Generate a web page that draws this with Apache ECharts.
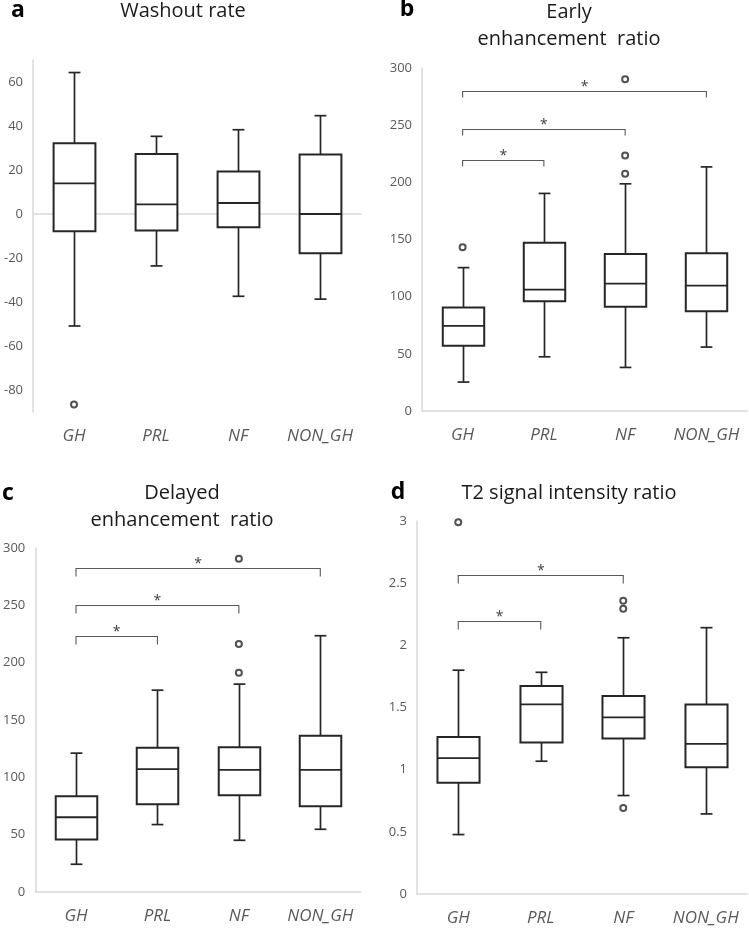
<!DOCTYPE html>
<html>
<head>
<meta charset="utf-8">
<script src="https://cdn.jsdelivr.net/npm/echarts@6/dist/echarts.min.js"></script>
<style>
html,body{margin:0;padding:0;background:#fff;}
#chart{width:749px;height:928px;}
</style>
</head>
<body>
<div id="chart"></div>
<script>
// ---- data ----
const categories = ['GH', 'PRL', 'NF', 'NON_GH'];

// [lower whisker, Q1, median, Q3, upper whisker]
const washoutBox = [[-50.9, -7.8, 13.9, 32.2, 64.3], [-23.6, -7.5, 4.4, 27.3, 35.3], [-37.4, -6.0, 5.0, 19.3, 38.3], [-38.7, -17.8, 0, 27.0, 44.7]];
const washoutOutliers = [[0, -86.6]];
const washoutBrackets = [];

const earlyBox = [[25.3, 57.0, 74.5, 90.5, 125.4], [47.4, 96.0, 106.2, 147.2, 190.3], [38.1, 91.1, 111.4, 137.3, 198.7], [55.9, 87.3, 109.7, 137.9, 213.5]];
const earlyOutliers = [[0, 143.2], [2, 207.4], [2, 223.5], [2, 290.1]];
const earlyBrackets = [[0, 1, 219.4], [0, 2, 246.5], [0, 3, 279.6]];

const delayedBox = [[24.2, 45.7, 65.2, 83.5, 121.1], [58.8, 76.6, 107.1, 125.7, 176.0], [45.1, 84.4, 106.5, 126.3, 181.3], [54.7, 74.8, 106.5, 136.2, 223.5]];
const delayedOutliers = [[2, 191.2], [2, 216.2], [2, 290.7]];
const delayedBrackets = [[0, 1, 222.9], [0, 2, 250.0], [0, 3, 282.5]];

const t2Box = [[0.478, 0.894, 1.093, 1.262, 1.80], [1.068, 1.219, 1.525, 1.672, 1.783], [0.792, 1.251, 1.420, 1.592, 2.061], [0.644, 1.020, 1.208, 1.525, 2.142]];
const t2Outliers = [[0, 2.99], [2, 2.359], [2, 2.295], [2, 0.692]];
const t2Brackets = [[0, 1, 2.193], [0, 2, 2.564]];

// ---- styling / layout ----
const FONT = '"Open Sans", "Noto Sans", sans-serif';
const INK = '#262626';
const AXIS_GRAY = '#d9d9d9';
const LABEL_GRAY = '#595959';

const panels = [
  { box: washoutBox, out: washoutOutliers, br: washoutBrackets, min: -90, max: 70, interval: 10, labelStep: 20,
    grid: { left: 33, top: 60, width: 328, height: 352 }, tick: 6 },
  { box: earlyBox, out: earlyOutliers, br: earlyBrackets, min: 0, max: 300, interval: 50, labelStep: 50,
    grid: { left: 422, top: 68, width: 325, height: 343 }, tick: 6 },
  { box: delayedBox, out: delayedOutliers, br: delayedBrackets, min: 0, max: 300, interval: 50, labelStep: 50,
    grid: { left: 35, top: 548, width: 326, height: 344 }, tick: 8 },
  { box: t2Box, out: t2Outliers, br: t2Brackets, min: 0, max: 3, interval: 0.5, labelStep: 0.5,
    grid: { left: 417, top: 521, width: 330, height: 373 }, tick: 8 }
];

function renderBox(params, api) {
  const x = api.value(0);
  const lo = api.coord([x, api.value(1)]);
  const q1 = api.coord([x, api.value(2)]);
  const md = api.coord([x, api.value(3)]);
  const q3 = api.coord([x, api.value(4)]);
  const hi = api.coord([x, api.value(5)]);
  const band = api.size([1, 0])[0];
  const bw = band * 0.51;
  const cw = band * 0.145;
  const cx = Math.round(lo[0]) + 0.5;
  const ls = { stroke: INK, lineWidth: 1.7 };
  return {
    type: 'group',
    children: [
      { type: 'line', shape: { x1: cx, y1: hi[1], x2: cx, y2: q3[1] }, style: ls },
      { type: 'line', shape: { x1: cx, y1: q1[1], x2: cx, y2: lo[1] }, style: ls },
      { type: 'line', shape: { x1: cx - cw / 2, y1: hi[1], x2: cx + cw / 2, y2: hi[1] }, style: ls },
      { type: 'line', shape: { x1: cx - cw / 2, y1: lo[1], x2: cx + cw / 2, y2: lo[1] }, style: ls },
      { type: 'rect', shape: { x: cx - bw / 2, y: q3[1], width: bw, height: q1[1] - q3[1] },
        style: { fill: '#fff', stroke: INK, lineWidth: 2 } },
      { type: 'line', shape: { x1: cx - bw / 2, y1: md[1], x2: cx + bw / 2, y2: md[1] }, style: { stroke: INK, lineWidth: 1.8 } }
    ]
  };
}

function makeBracketRenderer(tick) {
  return function (params, api) {
    const a = api.coord([api.value(0), api.value(2)]);
    const b = api.coord([api.value(1), api.value(2)]);
    const y = Math.round(a[1]) + 0.5;
    return {
      type: 'group',
      children: [
        { type: 'polyline', shape: { points: [[a[0], y + tick], [a[0], y], [b[0], y], [b[0], y + tick]] },
          style: { stroke: '#595959', lineWidth: 1.1, fill: null } },
        { type: 'text', style: { text: '*', x: (a[0] + b[0]) / 2, y: y - 4, textAlign: 'center', textVerticalAlign: 'middle',
          font: '14px ' + FONT, fill: '#404040' } }
      ]
    };
  };
}

const grid = [], xAxis = [], yAxis = [], series = [];
panels.forEach((p, i) => {
  grid.push(p.grid);
  xAxis.push({
    type: 'category', gridIndex: i, data: categories, boundaryGap: true,
    axisLine: { lineStyle: { color: AXIS_GRAY, width: 1.5 } },
    axisTick: { show: false },
    axisLabel: { color: LABEL_GRAY, fontFamily: FONT, fontSize: 17, fontStyle: 'italic', margin: 16, interval: 0 },
    splitLine: { show: false }
  });
  const step = p.labelStep;
  yAxis.push({
    type: 'value', gridIndex: i, min: p.min, max: p.max, interval: p.interval,
    axisLine: { show: true, lineStyle: { color: AXIS_GRAY, width: 1.5 } },
    axisTick: { show: false },
    splitLine: { show: false },
    axisLabel: {
      color: LABEL_GRAY, fontFamily: FONT, fontSize: 13, margin: 10,
      formatter: v => (Math.abs(Math.round(v / step) * step - v) < 1e-9 ? String(v) : '')
    }
  });
  series.push({
    type: 'custom', xAxisIndex: i, yAxisIndex: i, renderItem: renderBox,
    encode: { x: 0, y: [1, 2, 3, 4, 5] },
    data: p.box.map((d, k) => [k].concat(d)), z: 2
  });
  series.push({
    type: 'scatter', xAxisIndex: i, yAxisIndex: i, data: p.out,
    symbol: 'emptyCircle', symbolSize: 6,
    itemStyle: { color: INK, borderColor: INK, borderWidth: 1.6 }, z: 3
  });
  if (p.br.length) {
    series.push({
      type: 'custom', xAxisIndex: i, yAxisIndex: i, renderItem: makeBracketRenderer(p.tick),
      encode: { x: [0, 1], y: 2 }, data: p.br, z: 4
    });
  }
});

const titleStyle = { font: '20px ' + FONT, fill: '#1a1a1a', textAlign: 'center', textVerticalAlign: 'middle' };
const letterStyle = { font: 'bold 23px ' + FONT, fill: '#000', textAlign: 'center', textVerticalAlign: 'middle' };
const graphic = [
  { type: 'text', x: 18, y: 10, style: Object.assign({ text: 'a' }, letterStyle) },
  { type: 'text', x: 183, y: 11, style: Object.assign({ text: 'Washout rate' }, titleStyle) },
  { type: 'text', x: 407, y: 9, style: Object.assign({ text: 'b' }, letterStyle) },
  { type: 'text', x: 569, y: 12, style: Object.assign({ text: 'Early' }, titleStyle) },
  { type: 'text', x: 569, y: 39, style: Object.assign({ text: 'enhancement  ratio' }, titleStyle) },
  { type: 'text', x: 8, y: 493, style: Object.assign({ text: 'c' }, letterStyle) },
  { type: 'text', x: 182, y: 493, style: Object.assign({ text: 'Delayed' }, titleStyle) },
  { type: 'text', x: 182, y: 520, style: Object.assign({ text: 'enhancement  ratio' }, titleStyle) },
  { type: 'text', x: 398, y: 492, style: Object.assign({ text: 'd' }, letterStyle) },
  { type: 'text', x: 569, y: 493, style: Object.assign({ text: 'T2 signal intensity ratio' }, titleStyle) }
];

const chart = echarts.init(document.getElementById('chart'), null, { renderer: 'canvas' });
chart.setOption({
  backgroundColor: '#fff',
  animation: false,
  grid, xAxis, yAxis, series, graphic
});
</script>
</body>
</html>
